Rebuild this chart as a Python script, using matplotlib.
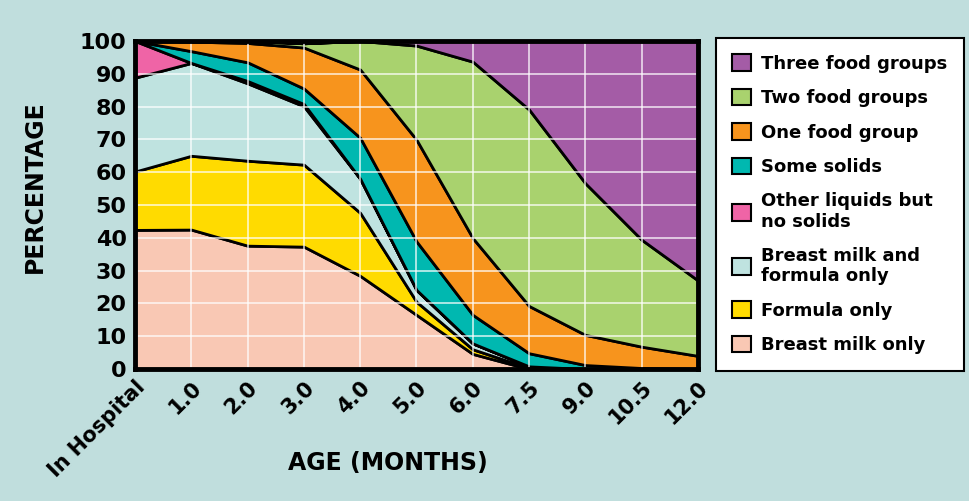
import matplotlib.pyplot as plt
from matplotlib.patches import Patch
import numpy as np

# age points along the x axis (equally spaced categories)
ages = ["In Hospital", "1.0", "2.0", "3.0", "4.0", "5.0", "6.0", "7.5", "9.0", "10.5", "12.0"]

# percentage in each feeding group, bottom layer first
breast_milk_only = [42.4, 42.5, 37.6, 37.3, 28.4, 16.5, 4.6, 0.0, 0.0, 0.0, 0.0]
formula_only = [17.8, 22.5, 25.9, 25.0, 19.2, 4.0, 1.4, 0.3, 0.0, 0.0, 0.0]
breast_and_formula = [28.6, 28.3, 23.6, 17.8, 10.4, 3.6, 1.8, 0.5, 0.0, 0.0, 0.0]
other_liquids = [11.2, 0.0, 0.7, 0.7, 0.0, 0.0, 0.0, 0.0, 0.0, 0.0, 0.0]
some_solids = [0.0, 3.6, 5.7, 4.7, 12.5, 14.8, 8.7, 4.0, 1.2, 0.3, 0.0]
one_food_group = [0.0, 2.9, 5.9, 12.5, 20.8, 31.0, 23.4, 14.4, 9.2, 6.5, 4.0]
two_food_groups = [0.0, 0.2, 0.6, 1.3, 8.7, 28.7, 53.8, 59.9, 46.2, 32.6, 23.0]
three_food_groups = [0.0, 0.0, 0.0, 0.0, 0.0, 1.4, 6.3, 20.9, 43.4, 60.6, 73.0]

layers = [breast_milk_only, formula_only, breast_and_formula, other_liquids,
          some_solids, one_food_group, two_food_groups, three_food_groups]
labels = ["Breast milk only", "Formula only", "Breast milk and\nformula only",
          "Other liquids but\nno solids", "Some solids", "One food group",
          "Two food groups", "Three food groups"]
colors = ['#f9c8b4', '#ffdb00', '#bfe3e0', '#ef64a6',
          '#00b8b0', '#f7941d', '#a9d26e', '#a45ca6']

plt.rcParams['font.family'] = ['DejaVu Sans']
plt.rcParams['font.weight'] = 'bold'

fig = plt.figure(figsize=(9.69, 5.01), dpi=100)
fig.patch.set_facecolor('#c0dedd')
ax = fig.add_axes([0.1393, 0.2635, 0.5810, 0.6547])

x = np.arange(len(ages))
ax.stackplot(x, layers, colors=colors, edgecolor='black', linewidth=2)

ax.set_xlim(0, len(ages) - 1)
ax.set_ylim(0, 100)
ax.set_xticks(x)
ax.set_xticklabels(ages, rotation=45, ha='right', va='top', rotation_mode='anchor',
                   fontsize=15, fontweight='heavy')
ax.set_yticks(range(0, 101, 10))
ax.set_yticklabels([str(v) for v in range(0, 101, 10)], fontsize=16, fontweight='heavy')
ax.tick_params(length=0, pad=6)

ax.grid(True, color='white', linewidth=1.1, alpha=0.85)
for s in ax.spines.values():
    s.set_linewidth(3.5)
    s.set_color('black')

ax.set_ylabel("PERCENTAGE", fontsize=17, fontweight='heavy')
ax.yaxis.set_label_coords(-0.157, 0.555)
fig.text(0.40, 0.075, "AGE (MONTHS)", ha='center', va='center', fontsize=17, fontweight='heavy')

# legend, top layer first
handles = [Patch(facecolor=c, edgecolor='black', linewidth=1.5) for c in colors[::-1]]
leg = fig.legend(handles, labels[::-1], loc='upper left', bbox_to_anchor=(716 / 969, 1 - 38 / 501),
                 borderaxespad=0, fancybox=False, framealpha=1, edgecolor='black',
                 fontsize=13, labelspacing=0.88, handlelength=1.05, handleheight=1.05,
                 handletextpad=0.55, borderpad=0.9)
leg.get_frame().set_linewidth(1.5)
for t in leg.get_texts():
    t.set_fontweight('heavy')

fig.savefig("out.png", dpi=100, facecolor=fig.get_facecolor())
